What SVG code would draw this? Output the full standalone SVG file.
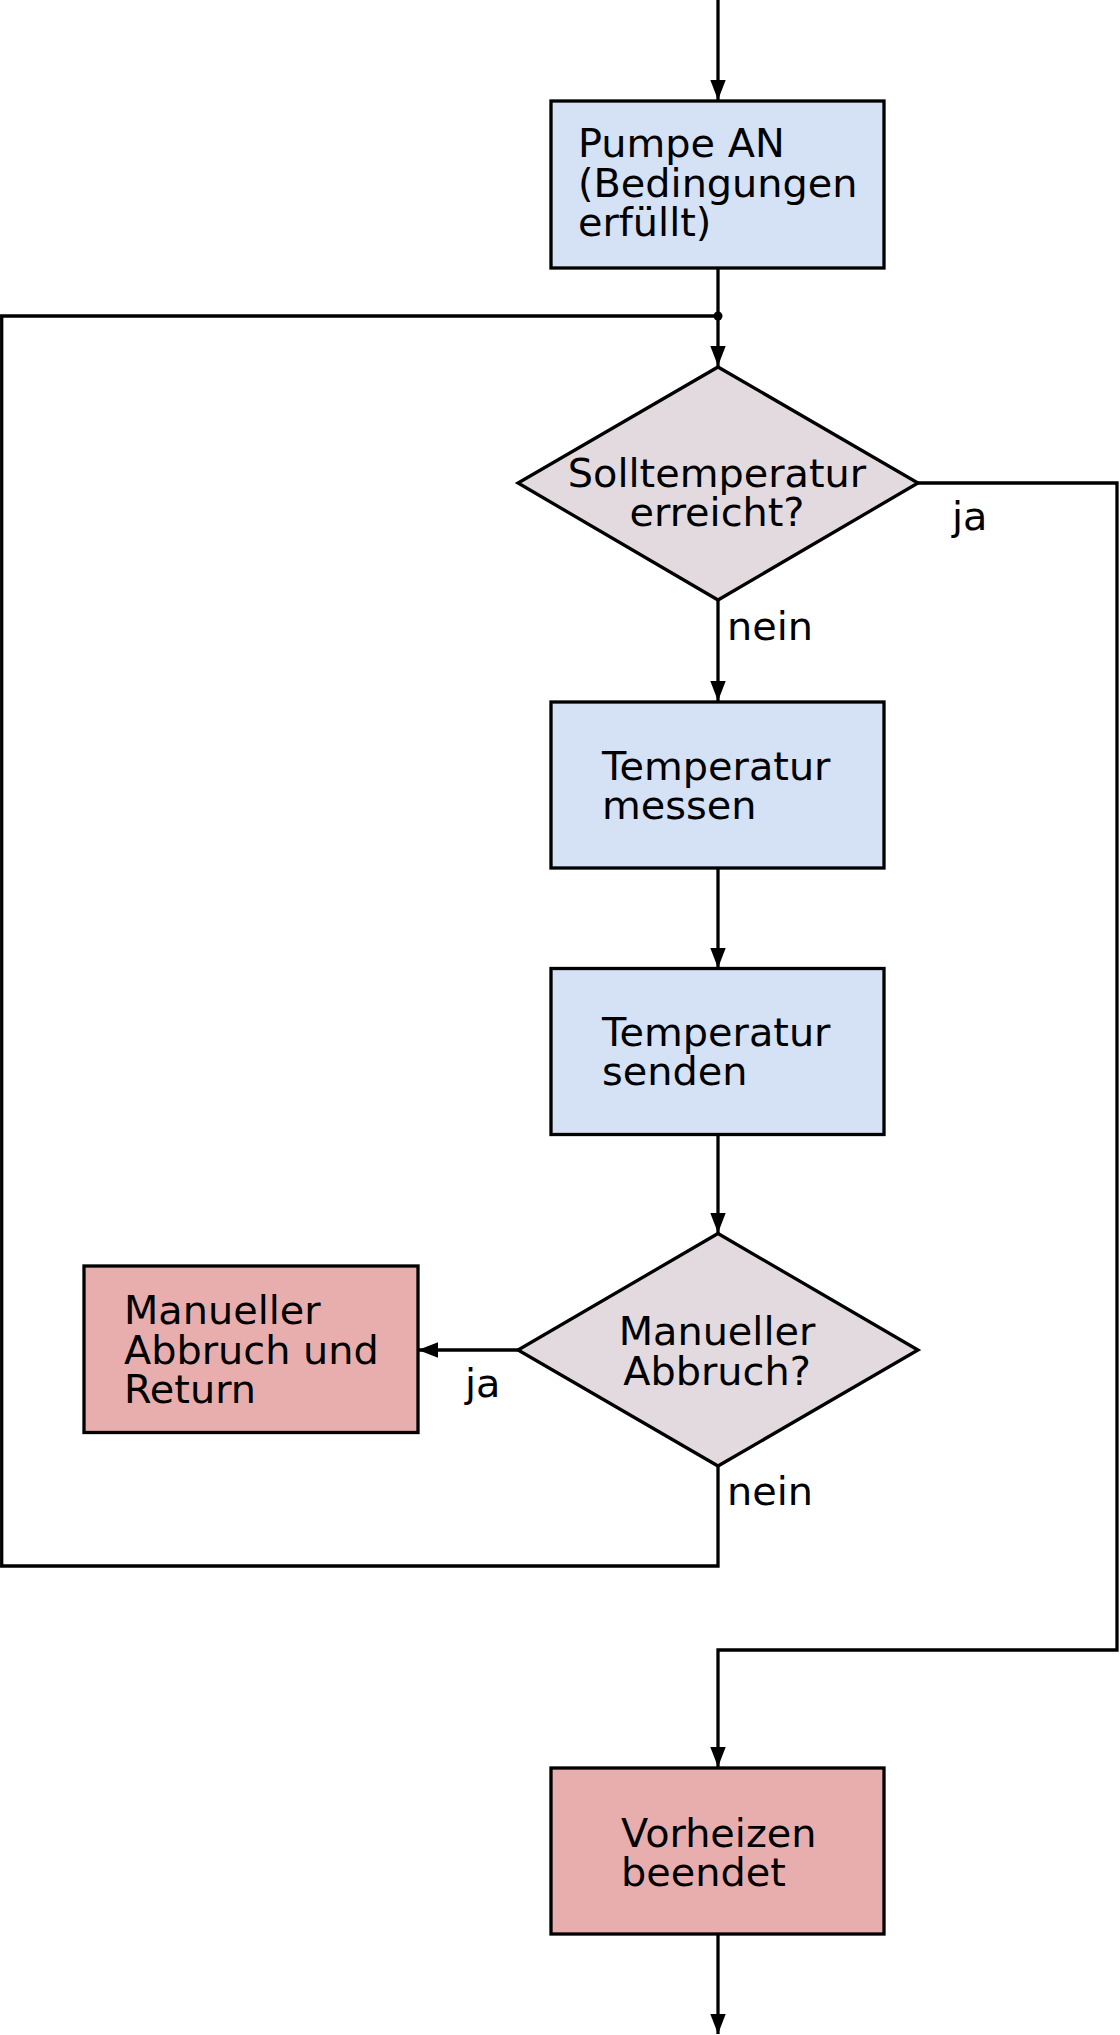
<svg xmlns="http://www.w3.org/2000/svg" width="1120" height="2035" viewBox="0 0 1120 2035">
<defs>
<marker id="arr" markerUnits="userSpaceOnUse" markerWidth="20" markerHeight="16" refX="20" refY="8" orient="auto" viewBox="0 0 20 16">
<path d="M0,0.3 L20,8 L0,15.7 Z" fill="#000"/>
</marker>
<style>
.box{stroke:#000;stroke-width:3.3;stroke-linejoin:miter}
.blue{fill:#d5e1f4}
.red{fill:#e8aeae}
.dia{fill:#e3dadf;stroke:#000;stroke-width:3.3}
.t{font-family:"DejaVu Sans",sans-serif;font-size:39.8px;fill:#000}
.c{text-anchor:middle}
.ln{fill:none;stroke:#000;stroke-width:3.3}
</style>
</defs>
<rect width="1120" height="2035" fill="#fff"/>
<g id="connectors">
<path class="ln" d="M718,0 V100" marker-end="url(#arr)"/>
<path class="ln" d="M718,268 V366" marker-end="url(#arr)"/>
<path class="ln" d="M718,1466 V1566 H1.7 V316 H718"/>
<circle cx="718" cy="316" r="4.5" fill="#000"/>
<path class="ln" d="M918,483 H1117 V1650 H718 V1767" marker-end="url(#arr)"/>
<path class="ln" d="M718,600 V701" marker-end="url(#arr)"/>
<path class="ln" d="M718,868 V968" marker-end="url(#arr)"/>
<path class="ln" d="M718,1135 V1233" marker-end="url(#arr)"/>
<path class="ln" d="M518,1350 H418" marker-end="url(#arr)"/>
<path class="ln" d="M718,1934 V2034" marker-end="url(#arr)"/>
<text class="t" x="952" y="530">ja</text>
<text class="t" x="727" y="640">nein</text>
<text class="t" x="465" y="1397">ja</text>
<text class="t" x="727" y="1505">nein</text>
</g>
<g id="pumpe">
<rect class="box blue" x="551" y="101" width="333" height="167"/>
<text class="t" x="578" y="157">Pumpe AN</text>
<text class="t" x="578" y="196.5">(Bedingungen</text>
<text class="t" x="578" y="236">erfüllt)</text>
</g>
<g id="soll">
<polygon class="dia" points="718,367 918,483 718,600 518,483"/>
<text class="t c" x="717" y="487">Solltemperatur</text>
<text class="t c" x="717" y="525.5">erreicht?</text>
</g>
<g id="messen">
<rect class="box blue" x="551" y="702" width="333" height="166"/>
<text class="t" x="602" y="780">Temperatur</text>
<text class="t" x="602" y="818.5">messen</text>
</g>
<g id="senden">
<rect class="box blue" x="551" y="968.5" width="333" height="166"/>
<text class="t" x="602" y="1046">Temperatur</text>
<text class="t" x="602" y="1085">senden</text>
</g>
<g id="abbruchfrage">
<polygon class="dia" points="718,1233.5 918,1350 718,1466 518,1350"/>
<text class="t c" x="717" y="1345">Manueller</text>
<text class="t c" x="717" y="1384.5">Abbruch?</text>
</g>
<g id="abbruch">
<rect class="box red" x="84" y="1266" width="334" height="166.5"/>
<text class="t" x="124" y="1324">Manueller</text>
<text class="t" x="124" y="1363.5">Abbruch und</text>
<text class="t" x="124" y="1403">Return</text>
</g>
<g id="ende">
<rect class="box red" x="551" y="1768" width="333" height="166"/>
<text class="t" x="621" y="1847">Vorheizen</text>
<text class="t" x="621" y="1886">beendet</text>
</g>
</svg>
